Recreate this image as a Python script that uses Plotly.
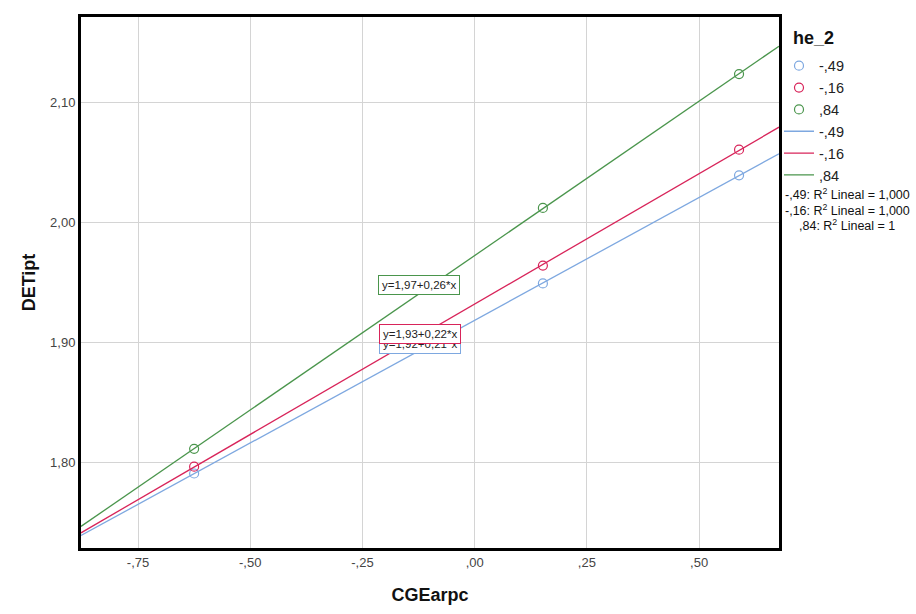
import numpy as np
import plotly.graph_objects as go

# ---- data ----
groups = ["-,49", "-,16", ",84"]
x_points = {
    "-,49": [-0.625, 0.152, 0.589],
    "-,16": [-0.625, 0.152, 0.589],
    ",84": [-0.625, 0.152, 0.589],
}
y_points = {
    "-,49": [1.791, 1.9495, 2.0396],
    "-,16": [1.7967, 1.9644, 2.061],
    ",84": [1.8116, 2.0124, 2.124],
}
colors = {"-,49": "#7ea8e0", "-,16": "#d8245a", ",84": "#4a954c"}
eq_labels = {"-,49": "y=1,92+0,21*x", "-,16": "y=1,93+0,22*x", ",84": "y=1,97+0,26*x"}
eq_pos = {"-,49": (-0.213, 1.899), "-,16": (-0.213, 1.9075), ",84": (-0.215, 1.948)}
r2_labels = ["-,49: R<sup>2</sup> Lineal = 1,000",
             "-,16: R<sup>2</sup> Lineal = 1,000",
             ",84: R<sup>2</sup> Lineal = 1"]
legend_title = "he_2"

x_range = [-0.877, 0.678]
y_range = [1.7289, 2.1716]
x_tickvals = [-0.75, -0.50, -0.25, 0.0, 0.25, 0.50]
x_ticktext = ["-,75", "-,50", "-,25", ",00", ",25", ",50"]
y_tickvals = [1.80, 1.90, 2.00, 2.10]
y_ticktext = ["1,80", "1,90", "2,00", "2,10"]

FONT = "Liberation Sans, Arial, sans-serif"
W, H = 916, 614
ML, MR, MT, MB = 81, 137, 17, 62
PW, PH = W - ML - MR, H - MT - MB


def px_to_paper(px, py):
    return (px - ML) / PW, (H - MB - py) / PH


fig = go.Figure()

# scatter points (legend circles)
for g in groups:
    fig.add_trace(go.Scatter(
        x=x_points[g], y=y_points[g], mode="markers", name=g,
        marker=dict(symbol="circle-open", size=9, color=colors[g], line=dict(width=1.2)),
    ))

# fitted lines
for g in groups:
    slope, intercept = np.polyfit(x_points[g], y_points[g], 1)
    xl = np.array(x_range)
    fig.add_trace(go.Scatter(
        x=xl, y=intercept + slope * xl, mode="lines", name=g,
        line=dict(color=colors[g], width=1.3),
    ))

# equation labels (blue first so red covers it)
for g in ["-,49", "-,16", ",84"]:
    ex, ey = eq_pos[g]
    fig.add_annotation(
        x=ex, y=ey, xref="x", yref="y", text=eq_labels[g], showarrow=False,
        xanchor="left", yanchor="middle",
        font=dict(family=FONT, size=11.5, color="#222"),
        bgcolor="white", bordercolor=colors[g], borderwidth=1, borderpad=3,
    )

# legend title
tx, ty = px_to_paper(791, 38)
fig.add_annotation(
    x=tx, y=ty, xref="paper", yref="paper", text="<b>%s</b>" % legend_title,
    showarrow=False, xanchor="left", yanchor="middle",
    font=dict(family=FONT, size=18, color="#111"),
)

# R^2 legend lines
for i, t in enumerate(r2_labels):
    rx, ry = px_to_paper(847, 195 + 16 * i)
    fig.add_annotation(
        x=rx, y=ry, xref="paper", yref="paper", text=t,
        showarrow=False, xanchor="center", yanchor="middle",
        font=dict(family=FONT, size=12.5, color="#111"),
    )

lx, ly = px_to_paper(ML + PW, 50)
fig.update_layout(
    width=W, height=H,
    margin=dict(l=ML, r=MR, t=MT, b=MB),
    paper_bgcolor="white", plot_bgcolor="white",
    separators=",.",
    font=dict(family=FONT, size=12, color="#333"),
    showlegend=True,
    legend=dict(
        font=dict(family=FONT, size=14.5, color="#222"),
        x=lx, xanchor="left", y=ly, yanchor="top",
        bgcolor="rgba(0,0,0,0)", borderwidth=0,
        tracegroupgap=0, itemwidth=30,
    ),
    xaxis=dict(
        range=x_range, tickvals=x_tickvals, ticktext=x_ticktext,
        showgrid=True, gridcolor="#d4d4d4", gridwidth=1, zeroline=False,
        showline=True, linecolor="black", linewidth=3, mirror=True,
        ticks="", tickfont=dict(family=FONT, size=13, color="#444"),
        title=dict(text="<b>CGEarpc</b>", font=dict(family=FONT, size=18, color="#111"), standoff=20),
    ),
    yaxis=dict(
        range=y_range, tickvals=y_tickvals, ticktext=y_ticktext,
        showgrid=True, gridcolor="#d4d4d4", gridwidth=1, zeroline=False,
        showline=True, linecolor="black", linewidth=3, mirror=True,
        ticks="", tickfont=dict(family=FONT, size=13, color="#444"),
        title=dict(text="<b>DETipt</b>", font=dict(family=FONT, size=18, color="#111"), standoff=10),
    ),
)

fig.write_html("out.html")
